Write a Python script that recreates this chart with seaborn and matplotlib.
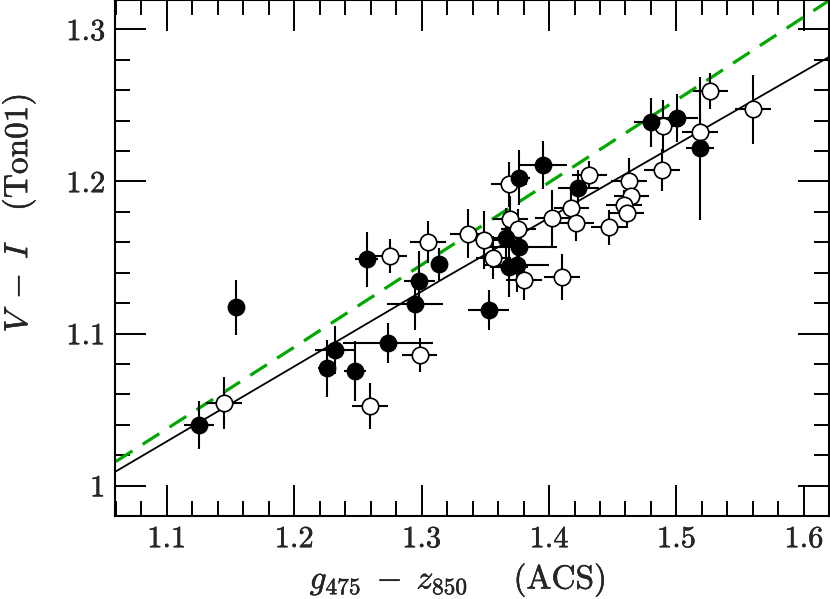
# colour-colour comparison: ACS g-z against Ton01 V-I
import numpy as np
import pandas as pd
import seaborn as sns
import matplotlib.pyplot as plt
import matplotlib.patheffects as pe
from matplotlib.ticker import MultipleLocator

# filled symbols
gz_filled = [1.1542, 1.1254, 1.2257, 1.2324, 1.2571, 1.3139, 1.2982, 1.2951, 1.2736, 1.2479,
             1.3526, 1.3665, 1.3762, 1.3683, 1.3749, 1.3767, 1.3951, 1.4229, 1.4797, 1.5006, 1.5181]
vi_filled = [1.1172, 1.0399, 1.0771, 1.0892, 1.1488, 1.1455, 1.1345, 1.1194, 1.0936, 1.0754,
             1.1154, 1.1625, 1.1570, 1.1439, 1.1450, 1.2025, 1.2107, 1.1958, 1.2388, 1.2418, 1.2217]
gz_err_filled = [0.004, 0.0115, 0.007, 0.016, 0.009, 0.006, 0.012, 0.022, 0.035, 0.0085,
                 0.016, 0.012, 0.030, 0.015, 0.025, 0.008, 0.019, 0.016, 0.013, 0.016, 0.011]
vi_err_filled = [0.018, 0.016, 0.0186, 0.016, 0.018, 0.011, 0.020, 0.017, 0.013, 0.0197,
                 0.013, 0.020, 0.015, 0.020, 0.018, 0.018, 0.016, 0.0115, 0.016, 0.016, 0.047]

# open symbols
gz_open = [1.1450, 1.2597, 1.2749, 1.2984, 1.3050, 1.3365, 1.3493, 1.3563, 1.3687, 1.3697,
           1.3760, 1.3803, 1.4027, 1.4176, 1.4215, 1.4103, 1.4317, 1.4469, 1.4626, 1.4647,
           1.4587, 1.4608, 1.4888, 1.4896, 1.5187, 1.5266, 1.5600]
vi_open = [1.0543, 1.0524, 1.1509, 1.0859, 1.1603, 1.1657, 1.1614, 1.1499, 1.1980, 1.1751,
           1.1687, 1.1352, 1.1757, 1.1823, 1.1728, 1.1373, 1.2045, 1.1698, 1.2002, 1.1905,
           1.1846, 1.1792, 1.2074, 1.2363, 1.2326, 1.2595, 1.2473]
gz_err_open = [0.014] * 27
vi_err_open = [0.017, 0.015, 0.011, 0.011, 0.014, 0.016, 0.019, 0.014, 0.015, 0.015,
               0.013, 0.013, 0.0186, 0.012, 0.012, 0.015, 0.009, 0.0115, 0.015, 0.010,
               0.010, 0.010, 0.014, 0.0175, 0.012, 0.012, 0.023]

# relations
gz_black = [1.06, 1.32, 1.62]
vi_black = [1.0093, 1.1375, 1.2820]
gz_green = [1.06, 1.20, 1.32, 1.51, 1.62]
vi_green = [1.0158, 1.0910, 1.1560, 1.2589, 1.3191]

filled = pd.DataFrame({"gz": gz_filled, "vi": vi_filled, "egz": gz_err_filled, "evi": vi_err_filled})
opened = pd.DataFrame({"gz": gz_open, "vi": vi_open, "egz": gz_err_open, "evi": vi_err_open})

sns.set_style("ticks")
plt.rcParams["font.family"] = ["cmr10", "DejaVu Serif"]
plt.rcParams["mathtext.fontset"] = "cm"
plt.rcParams["axes.formatter.use_mathtext"] = True
plt.rcParams["axes.unicode_minus"] = False

fig = plt.figure(figsize=(8.3, 5.99), dpi=100)
ax = fig.add_axes([115 / 830, 83 / 599, 714 / 830, 516 / 599])

sns.lineplot(x=gz_black, y=vi_black, color="black", linewidth=1.3, ax=ax, zorder=1)
sns.lineplot(x=gz_green, y=vi_green, color="#00a800", linewidth=2.3, ax=ax, zorder=1)
ax.lines[-1].set_dashes([6.2, 3.8])

for d in (filled, opened):
    ax.errorbar(d.gz, d.vi, xerr=d.egz, yerr=d.evi, fmt="none", ecolor="black",
                elinewidth=1.5, capsize=0, zorder=2)

sns.scatterplot(data=opened, x="gz", y="vi", color="white", edgecolor="black",
                linewidth=1.2, s=140, ax=ax, zorder=3)
sns.scatterplot(data=filled, x="gz", y="vi", color="black", edgecolor="black",
                linewidth=1.0, s=140, ax=ax, zorder=4)

ax.set_xlim(1.0594, 1.6197)
ax.set_ylim(0.980, 1.3193)
ax.xaxis.set_minor_locator(MultipleLocator(0.02))
ax.yaxis.set_minor_locator(MultipleLocator(0.02))
ax.set_yticks([1.0, 1.1, 1.2, 1.3])
ax.set_yticklabels(["1", "1.1", "1.2", "1.3"])
ax.set_xticks([1.1, 1.2, 1.3, 1.4, 1.5, 1.6])
ax.set_xticklabels(["1.1", "1.2", "1.3", "1.4", "1.5", "1.6"])

ax.tick_params(which="both", direction="in", top=True, right=True, width=1.4,
               labelsize=22, pad=7, color="black")
ax.tick_params(which="major", length=22)
ax.tick_params(which="minor", length=11)
for s in ax.spines.values():
    s.set_linewidth(1.5)
    s.set_color("black")

ax.set_xlabel(r"$g_{475}\;-\;z_{850}$    (ACS)", fontsize=24, va="center")
ax.set_ylabel(r"$V\;-\;I$   (Ton01)", fontsize=24, va="center")
ax.xaxis.set_label_coords(0.480, -0.124)
ax.yaxis.set_label_coords(-0.135, 0.587)

# slightly heavier strokes, like the original rendering
bold = [pe.withStroke(linewidth=0.3, foreground="black")]
for t in ax.get_xticklabels() + ax.get_yticklabels() + [ax.xaxis.label, ax.yaxis.label]:
    t.set_path_effects(bold)

fig.savefig("out.png", dpi=100)
